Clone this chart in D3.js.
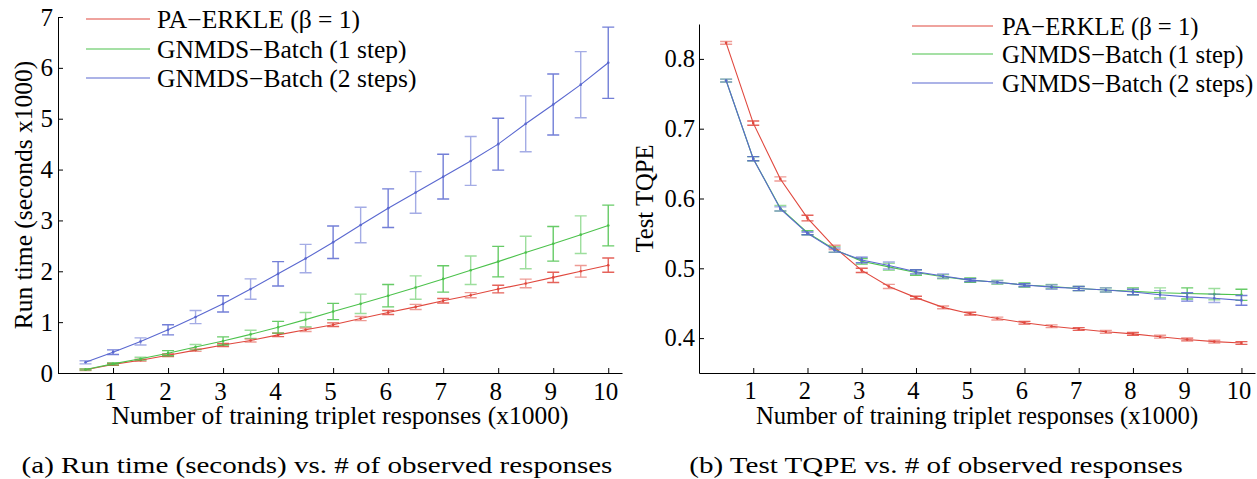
<!DOCTYPE html>
<html>
<head>
<meta charset="utf-8">
<script src="https://cdn.jsdelivr.net/npm/d3@7"></script>
<style>
  body { margin: 0; background: #fff; }
  text { font-family: "Liberation Serif", "Times New Roman", serif; fill: #000; }
</style>
</head>
<body>
<svg id="chart" width="1257" height="479"></svg>
<script>
// x positions (x1000 triplet responses)
const steps = [0.5, 1, 1.5, 2, 2.5, 3, 3.5, 4, 4.5, 5, 5.5, 6, 6.5, 7, 7.5, 8, 8.5, 9, 9.5, 10];
const seriesNames = ["PA\u2212ERKLE (\u03b2 = 1)", "GNMDS\u2212Batch (1 step)", "GNMDS\u2212Batch (2 steps)"];

// (a) run time, seconds x1000
const runPA    = [0.065, 0.17, 0.25, 0.35, 0.45, 0.55, 0.64, 0.75, 0.85, 0.95, 1.07, 1.19, 1.30, 1.42, 1.53, 1.65, 1.76, 1.88, 2.00, 2.12];
const runPAErr = [0.015, 0.02, 0.02, 0.025, 0.025, 0.03, 0.03, 0.035, 0.035, 0.035, 0.04, 0.04, 0.05, 0.045, 0.05, 0.075, 0.085, 0.10, 0.115, 0.14];
const run1    = [0.07, 0.18, 0.28, 0.39, 0.51, 0.63, 0.76, 0.90, 1.05, 1.21, 1.36, 1.52, 1.68, 1.85, 2.02, 2.19, 2.37, 2.54, 2.72, 2.90];
const run1Err = [0.015, 0.02, 0.03, 0.05, 0.05, 0.08, 0.08, 0.115, 0.14, 0.16, 0.19, 0.22, 0.23, 0.26, 0.28, 0.30, 0.32, 0.34, 0.37, 0.40];
const run2    = [0.21, 0.41, 0.62, 0.85, 1.10, 1.36, 1.65, 1.95, 2.25, 2.57, 2.91, 3.24, 3.55, 3.86, 4.17, 4.50, 4.90, 5.28, 5.67, 6.10];
const run2Err = [0.03, 0.045, 0.07, 0.10, 0.13, 0.16, 0.20, 0.24, 0.28, 0.32, 0.35, 0.38, 0.41, 0.44, 0.48, 0.51, 0.55, 0.60, 0.65, 0.70];

// (b) test TQPE
const tqPA    = [0.823, 0.708, 0.628, 0.572, 0.530, 0.497, 0.474, 0.458, 0.444, 0.435, 0.428, 0.422, 0.417, 0.413, 0.409, 0.406, 0.402, 0.398, 0.395, 0.393];
const tqPAErr = [0.002, 0.003, 0.003, 0.004, 0.003, 0.003, 0.003, 0.002, 0.002, 0.002, 0.002, 0.002, 0.002, 0.002, 0.002, 0.002, 0.002, 0.002, 0.002, 0.002];
const tq1    = [0.769, 0.657, 0.586, 0.551, 0.527, 0.510, 0.502, 0.494, 0.488, 0.483, 0.480, 0.476, 0.474, 0.471, 0.469, 0.467, 0.465, 0.464, 0.463, 0.462];
const tq1Err = [0.002, 0.003, 0.004, 0.003, 0.004, 0.004, 0.005, 0.004, 0.003, 0.003, 0.003, 0.003, 0.003, 0.003, 0.003, 0.005, 0.007, 0.008, 0.008, 0.008];
const tq2    = [0.769, 0.657, 0.585, 0.550, 0.526, 0.512, 0.504, 0.495, 0.489, 0.483, 0.480, 0.476, 0.473, 0.471, 0.469, 0.466, 0.462, 0.459, 0.457, 0.454];
const tq2Err = [0.002, 0.003, 0.003, 0.002, 0.003, 0.004, 0.005, 0.003, 0.003, 0.002, 0.002, 0.002, 0.003, 0.003, 0.003, 0.004, 0.006, 0.006, 0.006, 0.007];

const xTicks = [1, 2, 3, 4, 5, 6, 7, 8, 9, 10];
const runTicks = [0, 1, 2, 3, 4, 5, 6, 7];
const tqTicks = [0.4, 0.5, 0.6, 0.7, 0.8];

const colors = ['#e0483e', '#4cc24c', '#5a68d0'];

var svg = d3.select('#chart');
svg.append('rect').attr('width', 1257).attr('height', 479).attr('fill', '#fff');

const drawPanel = (opt) => {
    const X = d3.scaleLinear().domain([0, 10.25]).range(opt.xRange);
    const Y = d3.scaleLinear().domain(opt.yDomain).range(opt.yRange);
    const g = svg.append('g');

    // series: error bars, line, dots
    opt.series.forEach((s, i) => {
        const sg = g.append('g');
        const c = colors[i];
        const pts = steps.map((x, k) => ({x: x, y: s.vals[k], e: s.errs[k]}));
        sg.selectAll('.eb').data(pts).enter().append('path')
            .attr('d', d => {
                const cx = X(d.x), y1 = Y(d.y + d.e), y2 = Y(d.y - d.e);
                return 'M' + cx + ',' + y1 + 'V' + y2 +
                       'M' + (cx - 6) + ',' + y1 + 'H' + (cx + 6) +
                       'M' + (cx - 6) + ',' + y2 + 'H' + (cx + 6);
            })
            .attr('fill', 'none')
            .attr('stroke', c)
            .attr('stroke-width', 1.4)
            .attr('stroke-opacity', (d, k) => k % 2 ? 0.85 : 0.55);
        sg.append('path').datum(pts)
            .attr('d', d3.line().x(d => X(d.x)).y(d => Y(d.y)))
            .attr('fill', 'none').attr('stroke', c).attr('stroke-width', 1.1);
        sg.selectAll('circle').data(pts).enter().append('circle')
            .attr('cx', d => X(d.x)).attr('cy', d => Y(d.y)).attr('r', 1.3)
            .attr('fill', c);
    });

    // axes, ticks pointing inward
    const xa = g.append('g').attr('transform', 'translate(0,' + opt.yRange[0] + ')')
        .call(d3.axisBottom(X).tickValues(xTicks).tickSizeInner(-5).tickSizeOuter(0).tickPadding(9));
    xa.selectAll('text').attr('x', -3);
    const ya = g.append('g').attr('transform', 'translate(' + opt.xRange[0] + ',0)')
        .call(d3.axisLeft(Y).tickValues(opt.yTicks).tickSizeInner(-5).tickSizeOuter(0).tickPadding(opt.yPad)
            .tickFormat(opt.fmt));
    g.selectAll('.domain, .tick line').attr('stroke', '#000').attr('stroke-width', 1);
    g.selectAll('.tick text').style('font-size', opt.tickSize).attr('font-family', null);

    g.append('text').text('Number of training triplet responses (x1000)')
        .attr('x', (opt.xRange[0] + opt.xRange[1]) / 2).attr('y', 424)
        .attr('text-anchor', 'middle').style('font-size', opt.fontSize);
    g.append('text').text(opt.yTitle)
        .attr('transform', 'translate(' + opt.yTitleX + ',' + ((opt.yRange[0] + opt.yRange[1]) / 2) + ') rotate(-90)')
        .attr('text-anchor', 'middle').style('font-size', opt.fontSize);
    // caption is wider than tall in the source, so stretch it a bit
    g.append('text').text(opt.caption)
        .attr('transform', 'translate(' + opt.captionX + ',473) scale(1.21,1)')
        .attr('text-anchor', 'middle').style('font-size', '24px');

    // legend
    const lg = g.append('g');
    seriesNames.forEach((name, i) => {
        const ly = opt.legY[i];
        lg.append('line').attr('x1', opt.legX[0]).attr('x2', opt.legX[1]).attr('y1', ly).attr('y2', ly)
            .attr('stroke', colors[i]).attr('stroke-width', 1.2);
        lg.append('text').text(name).attr('x', opt.legX[2]).attr('y', ly).attr('dy', '0.35em')
            .style('font-size', opt.fontSize);
    });
};

drawPanel({
    xRange: [58, 622], yDomain: [0, 7], yRange: [373, 17], yTicks: runTicks, yPad: 5,
    fmt: d3.format('d'), fontSize: '25.5px', tickSize: '25px',
    series: [{vals: runPA, errs: runPAErr}, {vals: run1, errs: run1Err}, {vals: run2, errs: run2Err}],
    yTitle: 'Run time (seconds x1000)', yTitleX: 32,
    caption: '(a) Run time (seconds) vs. # of observed responses', captionX: 317,
    legX: [86, 150, 157], legY: [19, 49, 78]
});

drawPanel({
    xRange: [699, 1255], yDomain: [0.35, 0.85], yRange: [373, 24], yTicks: tqTicks, yPad: 4,
    fmt: d3.format('.1f'), fontSize: '24.7px', tickSize: '24.5px',
    series: [{vals: tqPA, errs: tqPAErr}, {vals: tq1, errs: tq1Err}, {vals: tq2, errs: tq2Err}],
    yTitle: 'Test TQPE', yTitleX: 653,
    caption: '(b) Test TQPE vs. # of observed responses', captionX: 936,
    legX: [912, 993, 1002], legY: [26, 54, 83]
});
</script>
</body>
</html>
